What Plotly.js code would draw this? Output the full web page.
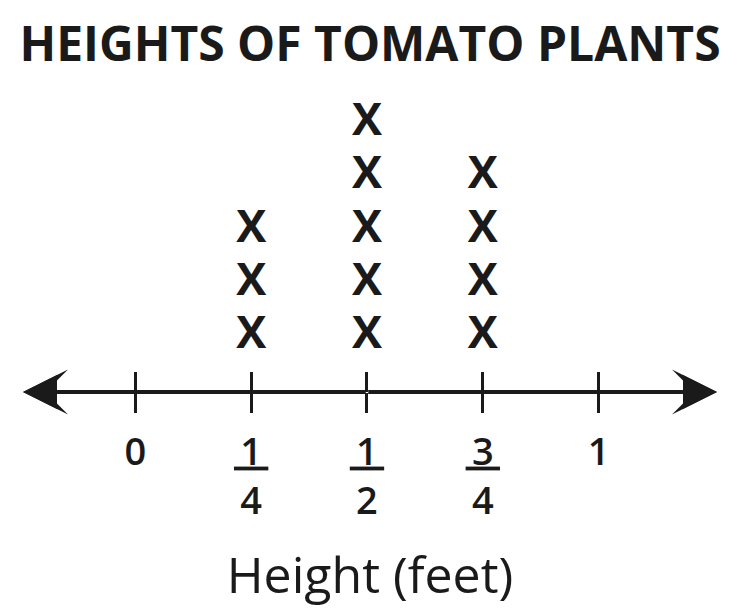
<!DOCTYPE html>
<html>
<head>
<meta charset="utf-8">
<script src="https://cdn.plot.ly/plotly-3.0.1.min.js"></script>
<style>html,body{margin:0;padding:0;background:#fff;}#chart{width:738px;height:614px;}</style>
</head>
<body>
<div id="chart"></div>
<script>
// Data
const heights = [0.25, 0.5, 0.75];          // plant height in feet
const counts = [3, 5, 4];                   // number of plants (X marks) at each height
const tickVals = [0, 0.25, 0.5, 0.75, 1];
const tickLabels = ['0', '<u>&#8201;1&#8201;</u><br>4', '<u>&#8201;1&#8201;</u><br>2', '<u>&#8201;3&#8201;</u><br>4', '1'];
const titleText = 'HEIGHTS OF TOMATO PLANTS';
const axisTitle = 'Height (feet)';

const ink = '#1a1a1a';
const xRange = [-0.2424, 1.2555];
const yRange = [-0.04, 5.453];

const xs = [], ys = [];
heights.forEach((h, i) => {
  for (let k = 1; k <= counts[i]; k++) { xs.push(h); ys.push(k); }
});

const traces = [{
  type: 'scatter', mode: 'text', x: xs, y: ys,
  text: xs.map(() => 'X'), textposition: 'middle center',
  textfont: {family: 'Open Sans', size: 45, color: ink, weight: 'bold'},
  hoverinfo: 'skip', cliponaxis: false, showlegend: false
}, {
  type: 'scatter', mode: 'markers', x: tickVals, y: tickVals.map(() => yRange[0]),
  xaxis: 'x2', marker: {size: 1, opacity: 0}, hoverinfo: 'skip', showlegend: false
}];

const lineY = yRange[0];
function arrow(tipX, head, size) {
  return {x: tipX, y: lineY, xref: 'x', yref: 'y', ax: 0.5, ay: lineY, axref: 'x', ayref: 'y',
          text: '', showarrow: true, arrowhead: head, arrowsize: size, arrowwidth: 4,
          arrowcolor: ink, standoff: 0, startstandoff: 0};
}

const layout = {
  width: 738, height: 614,
  margin: {l: 23, r: 21, t: 100, b: 222.3, pad: 0},
  paper_bgcolor: '#fff', plot_bgcolor: '#fff',
  showlegend: false,
  title: {text: titleText, x: 0.5, xref: 'paper', xanchor: 'center', y: 0.928, yref: 'container', yanchor: 'middle',
          font: {family: 'Open Sans', size: 48, color: ink, weight: 'bold'}},
  xaxis: {
    range: xRange, showgrid: false, zeroline: false, showline: false,
    tickmode: 'array', tickvals: tickVals, ticktext: tickLabels,
    ticks: 'outside', ticklen: 20, tickwidth: 3, tickcolor: ink,
    tickfont: {family: 'Open Sans', size: 38, color: ink, weight: 600},
    ticklabelstandoff: 6,
    title: {text: axisTitle, font: {family: 'Open Sans', size: 50, color: ink, weight: 500}, standoff: 33},
    fixedrange: true
  },
  xaxis2: {
    range: xRange, overlaying: 'x', anchor: 'y', side: 'bottom',
    showgrid: false, zeroline: false, showline: false,
    tickmode: 'array', tickvals: tickVals, showticklabels: false,
    ticks: 'inside', ticklen: 20, tickwidth: 3, tickcolor: ink, fixedrange: true
  },
  yaxis: {range: yRange, visible: false, fixedrange: true},
  annotations: [
    arrow(xRange[0], 3, 1.875), arrow(xRange[0], 2, 1.7),
    arrow(xRange[1], 3, 1.875), arrow(xRange[1], 2, 1.7)
  ]
};

Plotly.newPlot('chart', traces, layout, {displayModeBar: false, staticPlot: true});
</script>
</body>
</html>
